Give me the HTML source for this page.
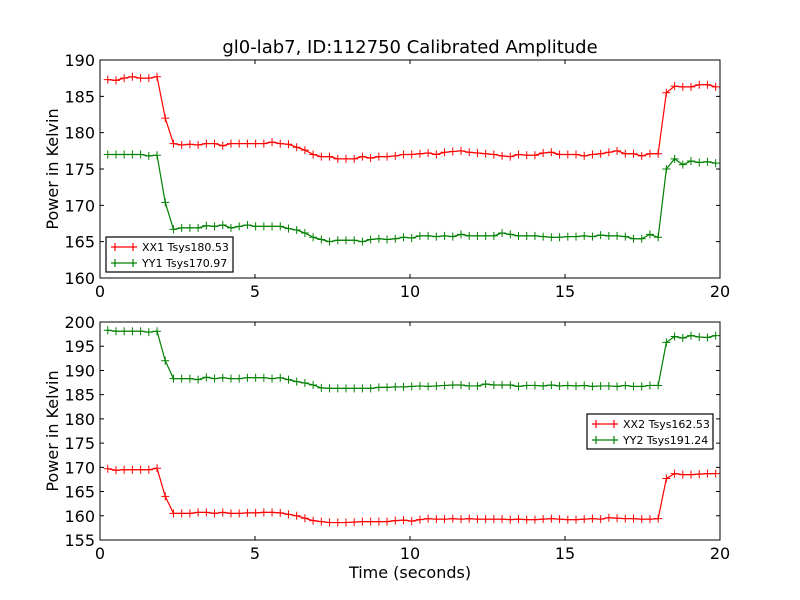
<!DOCTYPE html>
<html><head><meta charset="utf-8"><style>
body{margin:0;background:#fff;}
svg{display:block;font-family:"DejaVu Sans","Liberation Sans",sans-serif;}
</style></head><body>
<svg id="c" width="800" height="600"></svg>
<script>
const NS="http://www.w3.org/2000/svg";
const xx1=[187.3,187.2,187.5,187.7,187.5,187.5,187.7,182,178.5,178.3,178.4,178.3,178.5,178.5,178.2,178.5,178.5,178.5,178.5,178.5,178.7,178.5,178.4,178.0,177.6,177.0,176.7,176.7,176.4,176.4,176.4,176.7,176.5,176.7,176.7,176.8,177,177,177.1,177.2,177,177.3,177.4,177.5,177.3,177.2,177.1,177,176.8,176.7,177,176.9,176.9,177.2,177.3,177,177,177,176.8,177,177.1,177.3,177.5,177.1,177.1,176.8,177.1,177.1,185.5,186.4,186.3,186.3,186.6,186.6,186.3];
const yy1=[177,177,177,177,177,176.8,176.9,170.4,166.7,166.9,166.9,166.9,167.2,167.1,167.3,166.9,167.1,167.3,167.1,167.1,167.1,167.1,166.8,166.6,166.2,165.6,165.3,165.0,165.2,165.2,165.2,165.0,165.3,165.4,165.3,165.4,165.6,165.5,165.8,165.8,165.7,165.8,165.7,166.0,165.8,165.8,165.8,165.8,166.2,166.0,165.8,165.8,165.8,165.7,165.6,165.6,165.7,165.7,165.8,165.7,165.9,165.8,165.8,165.7,165.4,165.4,166.0,165.6,175,176.4,175.6,176.1,175.9,176,175.8];
const xx2=[169.7,169.4,169.5,169.5,169.5,169.5,169.8,164,160.5,160.5,160.5,160.7,160.7,160.5,160.7,160.5,160.5,160.6,160.6,160.7,160.7,160.6,160.3,160.0,159.5,159.0,158.8,158.6,158.6,158.6,158.7,158.8,158.8,158.8,158.8,159.0,159.1,158.9,159.2,159.4,159.3,159.3,159.4,159.3,159.4,159.3,159.3,159.3,159.3,159.2,159.3,159.2,159.2,159.3,159.4,159.3,159.2,159.2,159.3,159.4,159.3,159.6,159.5,159.4,159.4,159.3,159.3,159.4,167.7,168.7,168.5,168.5,168.6,168.7,168.7];
const yy2=[198.3,198.1,198.1,198.1,198.1,197.9,198.1,192,188.3,188.3,188.3,188.1,188.6,188.3,188.5,188.3,188.3,188.5,188.5,188.5,188.3,188.5,188.1,187.7,187.4,187.0,186.4,186.3,186.3,186.3,186.3,186.3,186.3,186.5,186.5,186.6,186.6,186.7,186.8,186.7,186.8,186.9,187.0,187.0,186.8,186.8,187.2,187.0,187.0,187.0,186.7,186.9,186.9,186.8,187.0,186.8,186.9,186.8,186.9,186.7,186.8,186.8,186.7,186.9,186.7,186.7,186.9,186.9,195.8,197.0,196.7,197.2,196.9,196.8,197.2];
const t0=0.25, dt=0.265;
const xTicks=[0,5,10,15,20];
const yTicks1=[160,165,170,175,180,185,190];
const yTicks2=[155,160,165,170,175,180,185,190,195,200];
const svg=document.getElementById('c');
function el(tag,a,p){const e=document.createElementNS(NS,tag);for(const k in a)e.setAttribute(k,a[k]);(p||svg).appendChild(e);return e;}
function panel(name,top,bot,ymin,ymax,yt,series,legend){
  const L=100,R=720;
  const g=el('g',{});
  
  
  const xs=v=>L+(v-0)/(20-0)*(R-L);
  const ys=v=>bot-(v-ymin)/(ymax-ymin)*(bot-top);
  series.forEach(s=>{
    const pts=s.d.map((v,i)=>[xs(t0+i*dt),ys(v)]);
    const pl=el('polyline',{points:pts.map(p=>p.join(',')).join(' '),fill:'none',stroke:s.c,'stroke-width':1.2},g);
    
    
    pts.forEach(p=>{
      const m=el('path',{d:`M${p[0]-4},${p[1]}h8M${p[0]},${p[1]-4}v8`,stroke:s.c,'stroke-width':1},g);
      
      
    });
  });
  el('rect',{x:L,y:top,width:R-L,height:bot-top,fill:'none',stroke:'#000','stroke-width':1},g);
  xTicks.forEach(v=>{
    const x=xs(v);
    el('path',{d:`M${x},${bot}v-4M${x},${top}v4`,stroke:'#000'},g);
    const tx=el('text',{x:x,y:bot+19,'text-anchor':'middle','font-size':16},g);
    tx.textContent=v;
    
    
  });
  yt.forEach(v=>{
    const y=ys(v);
    el('path',{d:`M${L},${y}h4M${R},${y}h-4`,stroke:'#000'},g);
    const tx=el('text',{x:L-5,y:y+6,'text-anchor':'end','font-size':16},g);
    tx.textContent=v;
    
    
  });
  const cy=(top+bot)/2;
  const yl=el('text',{x:58,y:cy,'text-anchor':'middle','font-size':16,transform:`rotate(-90 58 ${cy})`},g);
  yl.textContent='Power in Kelvin';
  
  
  const lg=el('g',{},g);
  
  
  el('rect',{x:legend.x,y:legend.y,width:legend.w,height:35,fill:'#fff',stroke:'#000','stroke-width':1.2},lg);
  series.forEach((s,i)=>{
    const yy=legend.y+10+i*16;
    const lx=legend.x+5;
    el('path',{d:`M${lx},${yy}h26M${lx+4},${yy-4}v8M${lx+22},${yy-4}v8`,stroke:s.c,'stroke-width':1.2},lg);
    const tx=el('text',{x:lx+31,y:yy+4,'font-size':11},lg);
    tx.textContent=s.label;
    
    
  });
}
panel('top-panel',60,278,160,190,yTicks1,[{n:'xx1',d:xx1,c:'#ff0000',label:'XX1 Tsys180.53'},{n:'yy1',d:yy1,c:'#008000',label:'YY1 Tsys170.97'}],{x:106,y:237,w:127});
panel('bottom-panel',322,540,155,200,yTicks2,[{n:'xx2',d:xx2,c:'#ff0000',label:'XX2 Tsys162.53'},{n:'yy2',d:yy2,c:'#008000',label:'YY2 Tsys191.24'}],{x:587,y:414,w:126});
const ti=el('text',{x:410,y:53,'text-anchor':'middle','font-size':18});
ti.textContent='gl0-lab7, ID:112750 Calibrated Amplitude';


const xl=el('text',{x:410,y:578,'text-anchor':'middle','font-size':16});
xl.textContent='Time (seconds)';


</script>
</body></html>
